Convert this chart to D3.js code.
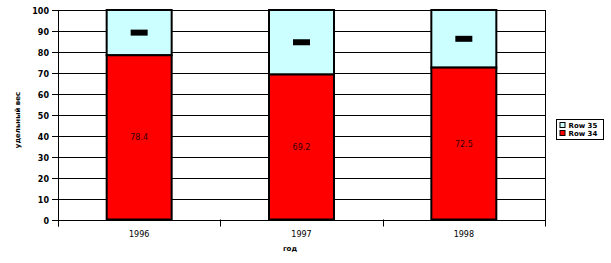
<!DOCTYPE html>
<html>
<head>
<meta charset="utf-8">
<script src="https://cdn.jsdelivr.net/npm/d3@7"></script>
<style>
  body { margin: 0; background: #fff; }
  svg { display: block; font-family: "DejaVu Sans", sans-serif; }
</style>
</head>
<body>
<div id="chart"></div>
<script>
const years = ["1996", "1997", "1998"];
const row34 = [78.4, 69.2, 72.5];
const row35 = [21.6, 30.8, 27.5];
const yTicks = [0, 10, 20, 30, 40, 50, 60, 70, 80, 90, 100];
const seriesNames = ["Row 35", "Row 34"];

const width = 611, height = 263;
const plotLeft = 58, plotRight = 545, plotTop = 10, plotBottom = 219.5;

const svg = d3.select("#chart").append("svg")
    .attr("width", width)
    .attr("height", height);

const x = d3.scaleBand().domain(years).range([plotLeft, plotRight]).paddingInner(0).paddingOuter(0);
const y = d3.scaleLinear().domain([0, 100]).range([plotBottom, plotTop]);
const barW = 65;
const snap = v => Math.round(v) + 0.5;

// grid lines
svg.append("g")
    .selectAll("line")
    .data(yTicks)
    .join("line")
    .attr("x1", plotLeft).attr("x2", plotRight)
    .attr("y1", d => snap(y(d)))
    .attr("y2", d => snap(y(d)))
    .attr("stroke", "#000")
    .attr("stroke-width", 1);

// y axis ticks + labels
const yAxis = svg.append("g").attr("class", "y-axis");
yAxis.selectAll("line")
    .data(yTicks)
    .join("line")
    .attr("x1", plotLeft - 6).attr("x2", plotLeft)
    .attr("y1", d => snap(y(d))).attr("y2", d => snap(y(d)))
    .attr("stroke", "#000");
yAxis.selectAll("text")
    .data(yTicks)
    .join("text")
    .attr("x", plotLeft - 9)
    .attr("y", d => snap(y(d)) + 3)
    .attr("text-anchor", "end")
    .style("font-size", "8px").style("font-weight", "bold")
    .text(d => d);
svg.append("line")
    .attr("x1", plotLeft + 0.5).attr("x2", plotLeft + 0.5)
    .attr("y1", plotTop).attr("y2", plotBottom + 7)
    .attr("stroke", "#000");

// x axis with ticks at category boundaries
const bounds = [plotLeft, plotLeft + x.step(), plotLeft + 2 * x.step(), plotRight];
svg.append("g")
    .selectAll("line")
    .data(bounds)
    .join("line")
    .attr("x1", d => snap(d)).attr("x2", d => snap(d))
    .attr("y1", (d, i) => i === 3 ? plotTop : plotBottom)
    .attr("y2", plotBottom + 7)
    .attr("stroke", "#000");

svg.append("g")
    .selectAll("text")
    .data(years)
    .join("text")
    .attr("x", d => x(d) + x.bandwidth() / 2)
    .attr("y", 237)
    .attr("text-anchor", "middle")
    .style("font-size", "8px")
    .text(d => d);

// bars
const g = svg.append("g");
years.forEach((yr, i) => {
    const cx = x(yr) + x.bandwidth() / 2;
    const x0 = cx - barW / 2;
    g.append("rect")
        .attr("x", x0).attr("y", y(100))
        .attr("width", barW).attr("height", y(row34[i]) - y(100))
        .attr("fill", "#ccffff").attr("stroke", "#000").attr("stroke-width", 2);
    g.append("rect")
        .attr("x", x0).attr("y", y(row34[i]))
        .attr("width", barW).attr("height", y(0) - y(row34[i]))
        .attr("fill", "#ff0000").attr("stroke", "#000").attr("stroke-width", 2);
    // top segment label (rendered as a black block)
    const midTop = y(row34[i] + row35[i] / 2);
    g.append("rect")
        .attr("x", cx - 8.5).attr("y", midTop - 3)
        .attr("width", 17).attr("height", 6)
        .attr("fill", "#000");
    g.append("text")
        .attr("x", cx).attr("y", y(row34[i] / 2) + 3)
        .attr("text-anchor", "middle")
        .style("font-size", "8px")
        .attr("fill", "#330000")
        .text(row34[i]);
});

// axis titles
svg.append("text")
    .attr("transform", "translate(20,120) rotate(-90)")
    .attr("text-anchor", "middle")
    .style("font-size", "7px").style("font-weight", "bold")
    .text("удельный вес");
svg.append("text")
    .attr("x", 290).attr("y", 251)
    .attr("text-anchor", "middle")
    .style("font-size", "7px").style("font-weight", "bold")
    .text("год");

// legend
const legend = svg.append("g").attr("transform", "translate(556.5,119.5)");
legend.append("rect")
    .attr("width", 47).attr("height", 20)
    .attr("fill", "#fff").attr("stroke", "#000");
const legColors = ["#ccffff", "#ff0000"];
seriesNames.forEach((name, i) => {
    legend.append("rect")
        .attr("x", 3.5).attr("y", 3 + i * 8)
        .attr("width", 5).attr("height", 5)
        .attr("fill", legColors[i]).attr("stroke", "#000");
    legend.append("text")
        .attr("x", 12).attr("y", 8.5 + i * 8)
        .style("font-size", "7px").style("font-weight", "bold")
        .text(name);
});
</script>
</body>
</html>
